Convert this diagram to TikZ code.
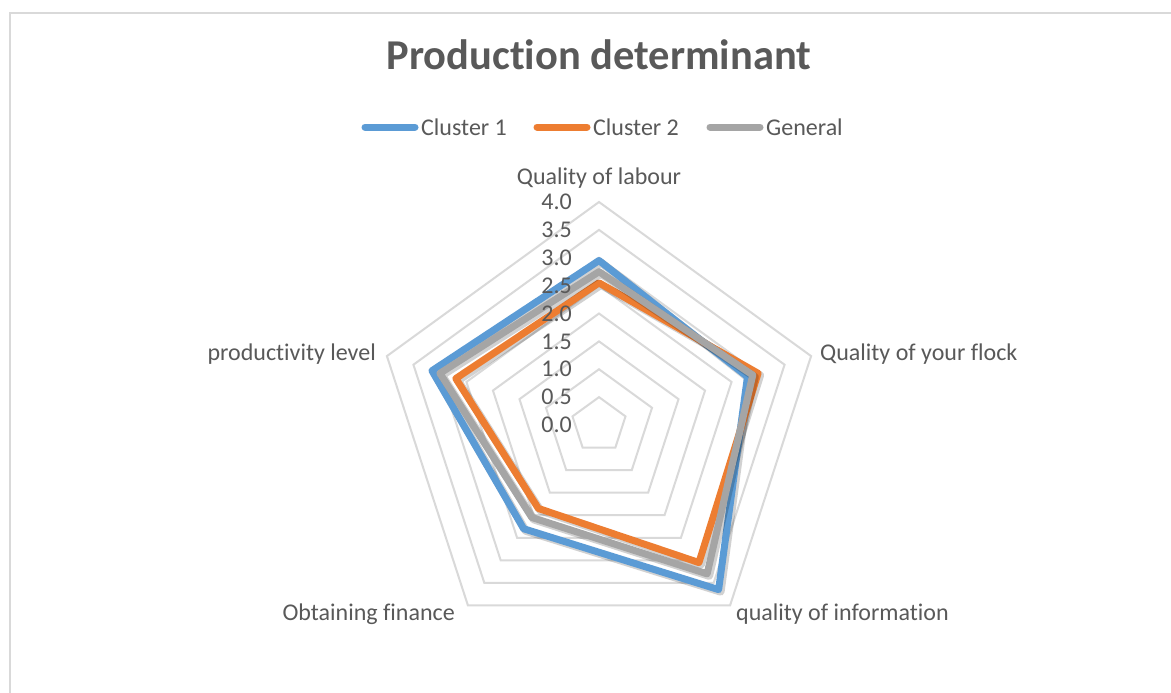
\documentclass[tikz,border=0pt]{standalone}
\usepackage{fontspec}
\setmainfont{Carlito}[Ligatures={NoCommon},RawFeature={-liga;-clig;-dlig}]
\usetikzlibrary{positioning,calc}
\definecolor{clusterone}{HTML}{5B9BD5}
\definecolor{clustertwo}{HTML}{ED7D31}
\definecolor{general}{HTML}{A5A5A5}
\definecolor{labelgray}{HTML}{595959}
\definecolor{gridgray}{HTML}{D9D9D9}
\newcommand\splitlig{\kern0pt }

\begin{document}
\begin{tikzpicture}[x=1pt,y=1pt,
  label text/.style={text=labelgray,font=\fontsize{24}{28}\selectfont,inner sep=0},
  series/.style={line width=7pt,line join=round,line cap=round},
  shade line/.style={line width=8pt,draw=black,opacity=0.18,line join=round,xshift=2pt,yshift=-2pt},
  grid ring/.style={draw=gridgray,line width=2pt,line join=miter}]
  \useasboundingbox (0,0) rectangle (1171,-693);
  \fill[white] (0,0) rectangle (1171,-693);
  \draw[gridgray,line width=2pt] (10,-693) -- (10,-13) -- (1171,-13);

  \node[text=labelgray,font=\fontsize{42.5}{50}\selectfont\bfseries,inner sep=0,anchor=base]
    (title) at (599,-70) {Product\splitlig ion determinant};

  % legend
  \draw[series,clusterone] (365,-127) -- (415,-127) coordinate (leg1);
  \node[label text,anchor=west] (legtext1) at ($(leg1)+(6,0)$) {Cluster 1};
  \draw[series,clustertwo] (537,-127) -- (587,-127) coordinate (leg2);
  \node[label text,anchor=west] (legtext2) at ($(leg2)+(6,0)$) {Cluster 2};
  \draw[series,general] (710,-127) -- (760,-127) coordinate (leg3);
  \node[label text,anchor=west] (legtext3) at ($(leg3)+(6,0)$) {General};

  \begin{scope}[shift={(599,-425)},x=55.75pt,y=55.75pt]
    \foreach \r in {0.5,1.0,...,4.0}
      \draw[grid ring] (90:\r) -- (18:\r) -- (-54:\r) -- (-126:\r) -- (162:\r) -- cycle;

    % series
    \draw[shade line] (90:2.95) -- (18:2.8) -- (-54:3.65) -- (-126:2.3) -- (162:3.15) -- cycle;
    \draw[series,clusterone] (90:2.95) -- (18:2.8) -- (-54:3.65) -- (-126:2.3) -- (162:3.15) -- cycle;
    \draw[shade line] (90:2.55) -- (18:3.0) -- (-54:3.05) -- (-126:1.85) -- (162:2.7) -- cycle;
    \draw[series,clustertwo] (90:2.55) -- (18:3.0) -- (-54:3.05) -- (-126:1.85) -- (162:2.7) -- cycle;
    \draw[shade line] (90:2.75) -- (18:2.9) -- (-54:3.3) -- (-126:2.05) -- (162:3.0) -- cycle;
    \draw[series,general] (90:2.75) -- (18:2.9) -- (-54:3.3) -- (-126:2.05) -- (162:3.0) -- cycle;

    \foreach \v [count=\k] in {0.0,0.5,1.0,1.5,2.0,2.5,3.0,3.5,4.0}
      \node[label text,anchor=east,xshift=-27pt] (tick\k) at (0,{(\k-1)*0.5}) {\v};
  \end{scope}

  % axis labels
  \node[label text,anchor=base] (labour) at (599,-184) {Quality of labour};
  \node[label text,anchor=base west] (flock) at (820,-360) {Quality of your flock};
  \node[label text,anchor=base west] (information) at (736,-620) {quality of informat\splitlig ion};
  \node[label text,anchor=base east] (finance) at (455,-620) {Obtaining finance};
  \node[label text,anchor=base east] (productivity) at (376,-360) {product\splitlig ivity level};
\end{tikzpicture}
\end{document}
